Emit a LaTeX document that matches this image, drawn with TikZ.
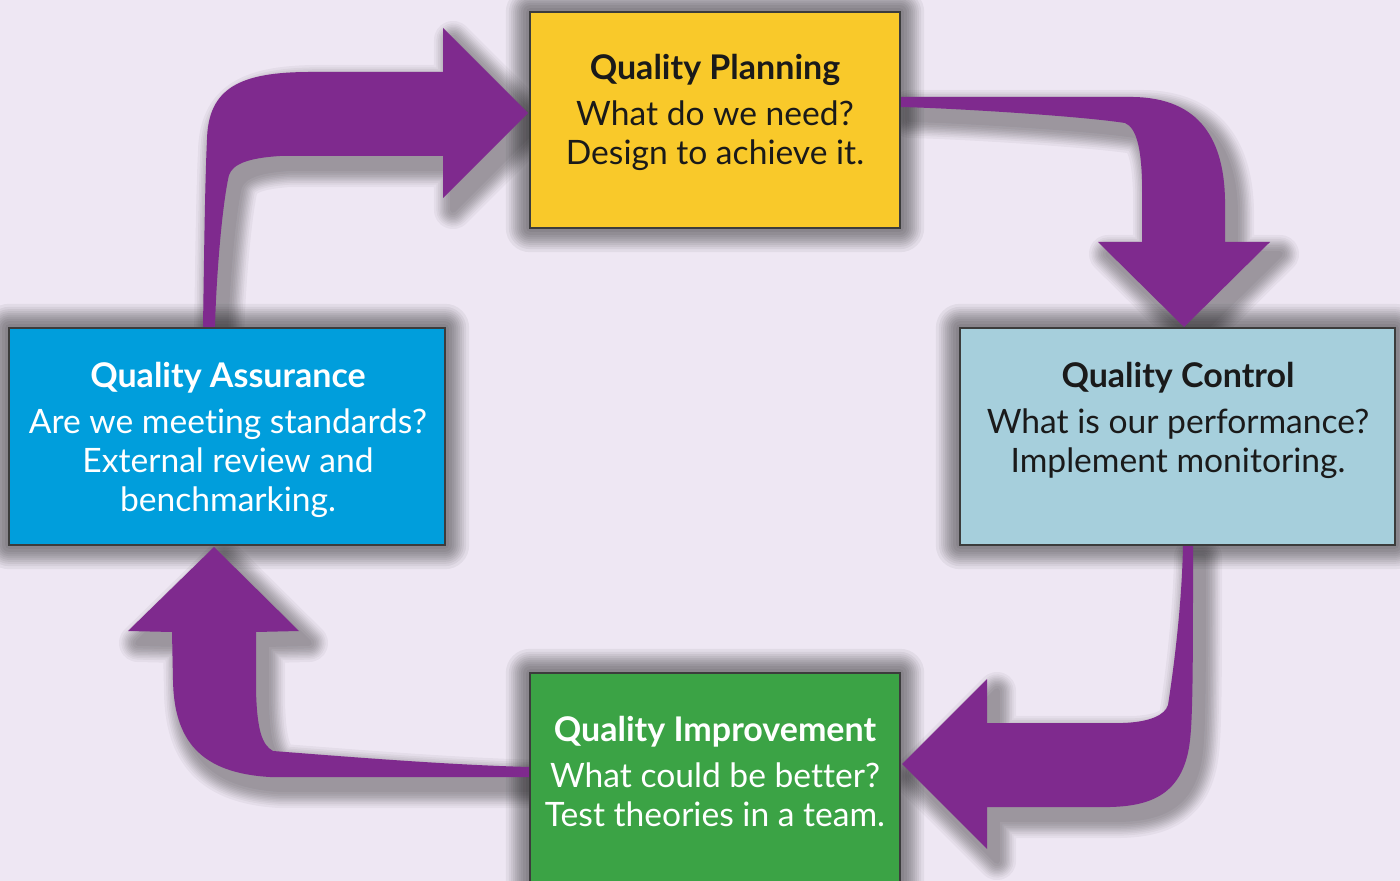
\documentclass[tikz,border=0pt]{standalone}
\usepackage{fontspec}
\setmainfont{Lato}[Ligatures=NoCommon]
\definecolor{bgcol}{HTML}{EEE7F3}
\definecolor{loop}{HTML}{7F2A8E}
\definecolor{planY}{HTML}{F9C92A}
\definecolor{ctrlB}{HTML}{A6CFDC}
\definecolor{imprG}{HTML}{3BA345}
\definecolor{assuB}{HTML}{009EDC}
\definecolor{ink}{HTML}{1A1A1A}
\pgfdeclarelayer{canvas}
\pgfdeclarelayer{boxshade}
\pgfdeclarelayer{arrows}
\pgfsetlayers{canvas,boxshade,arrows,main}
\tikzset{
  stage/.style={draw=ink!85, line width=0.8pt, inner sep=0pt, outer sep=0pt},
  looparrow/.style={fill=loop},
  title/.style={font=\fontsize{17}{20}\selectfont\bfseries, anchor=base, inner sep=0pt},
  body/.style={font=\fontsize{16.8}{20}\selectfont, anchor=base, inner sep=0pt}
}
% outlines of the four curved block arrows
\newcommand\pathAP{(203,328) .. controls (204,260) and (205,180) .. (207,140)
    .. controls (208,88) and (240,72) .. (310,72) -- (443,72) -- (443,28) -- (528,113)
    -- (443,198) -- (443,156) -- (280,156) .. controls (248,158) and (233,164) .. (229,175)
    .. controls (222,205) and (216,280) .. (215,328) -- cycle}
\newcommand\pathPC{(900,97) -- (1133,97) .. controls (1200,98) and (1224,140) .. (1225,200)
    -- (1225,242) -- (1270,242) -- (1184,327) -- (1098,242) -- (1142,242) -- (1142,180)
    .. controls (1141,150) and (1137,128) .. (1125,123)
    .. controls (1080,116) and (950,108) .. (900,107) -- cycle}
\newcommand\pathCI{(1193,545) .. controls (1193,650) and (1193,715) .. (1190,740)
    .. controls (1184,795) and (1150,806) .. (1110,807) -- (987,807) -- (987,849)
    -- (902,764) -- (987,679) -- (987,723) -- (1123,723)
    .. controls (1150,722) and (1165,715) .. (1168,705)
    .. controls (1175,660) and (1182,600) .. (1183,545) -- cycle}
\newcommand\pathIA{(530,777) -- (270,777) .. controls (200,773) and (174,740) .. (173,680)
    -- (172,632) -- (128,631) -- (214,547) -- (299,631) -- (256,632) -- (256,690)
    .. controls (257,730) and (262,745) .. (273,751)
    .. controls (350,757) and (450,765) .. (530,767) -- cycle}
% soft drop shadow: ten translucent widened copies of the shifted outline,
% widths spaced so that the darkness falls off smoothly
% #1 path, #2 offset, #3 reach, #4 opacity of each copy
\newcommand\dropshadow[4]{%
  \foreach \k in {1,...,10}{%
    \pgfmathsetmacro\dd{#3*(0.5-sin(asin(1-2*(\k-0.5)/10)/3))}%
    \begin{scope}[transparency group, opacity=#4]
      \path[fill=black, draw=black, line join=round, line width=\dd*1pt, shift={#2}] #1;
    \end{scope}}}
\begin{document}
\begin{tikzpicture}[x=0.5pt, y=-0.5pt]
\useasboundingbox (0,0) rectangle (1400,881);
\begin{pgfonlayer}{canvas}
  \fill[bgcol] (0,0) rectangle (1400,881);
\end{pgfonlayer}

% the four stages
\node[stage, fill=planY, minimum width=185pt, minimum height=108pt] (qp) at (715,120) {};
\node[stage, fill=ctrlB, minimum width=217.5pt, minimum height=108.5pt] (qc) at (1177.5,436.5) {};
\node[stage, fill=imprG, minimum width=185pt, minimum height=113.5pt] (qi) at (715,786.5) {};
\node[stage, fill=assuB, minimum width=218pt, minimum height=108.5pt] (qa) at (227,436.5) {};

% soft shadows under the stages
\begin{pgfonlayer}{boxshade}
  \foreach \b in {qp,qc,qi,qa}{%
    \dropshadow{(\b.north west) rectangle (\b.south east)}{(16,20)}{28}{0.05}}
\end{pgfonlayer}

% curved block arrows of the cycle, each with its shadow
\begin{pgfonlayer}{arrows}
  \dropshadow{\pathAP}{(10,12)}{22}{0.041}
  \dropshadow{\pathPC}{(10,12)}{22}{0.041}
  \dropshadow{\pathCI}{(10,12)}{22}{0.041}
  \dropshadow{\pathIA}{(10,12)}{22}{0.041}
  \path[looparrow] \pathAP; % assurance -> planning
  \path[looparrow] \pathPC; % planning -> control
  \path[looparrow] \pathCI; % control -> improvement
  \path[looparrow] \pathIA; % improvement -> assurance
\end{pgfonlayer}

% texts
\node[title, text=ink] (qpt) at (715,80) {Quality Planning};
\node[body, text=ink] (qp1) at (715,126) {What do we need?};
\node[body, text=ink] (qp2) at (715,165) {Design to achieve it.};

\node[title, text=ink] (qct) at (1178,387) {Quality Control};
\node[body, text=ink] (qc1) at (1178,433) {What is our performance?};
\node[body, text=ink] (qc2) at (1178,472) {Implement monitoring.};

\node[title, text=white] (qat) at (228,387) {Quality Assurance};
\node[body, text=white] (qa1) at (228,433) {Are we meeting standards?};
\node[body, text=white] (qa2) at (228,472) {External review and};
\node[body, text=white] (qa3) at (228,511) {benchmarking.};

\node[title, text=white] (qit) at (715,741) {Quality Improvement};
\node[body, text=white] (qi1) at (715,787) {What could be better?};
\node[body, text=white] (qi2) at (715,826) {Test theories in a team.};
\end{tikzpicture}
\end{document}
